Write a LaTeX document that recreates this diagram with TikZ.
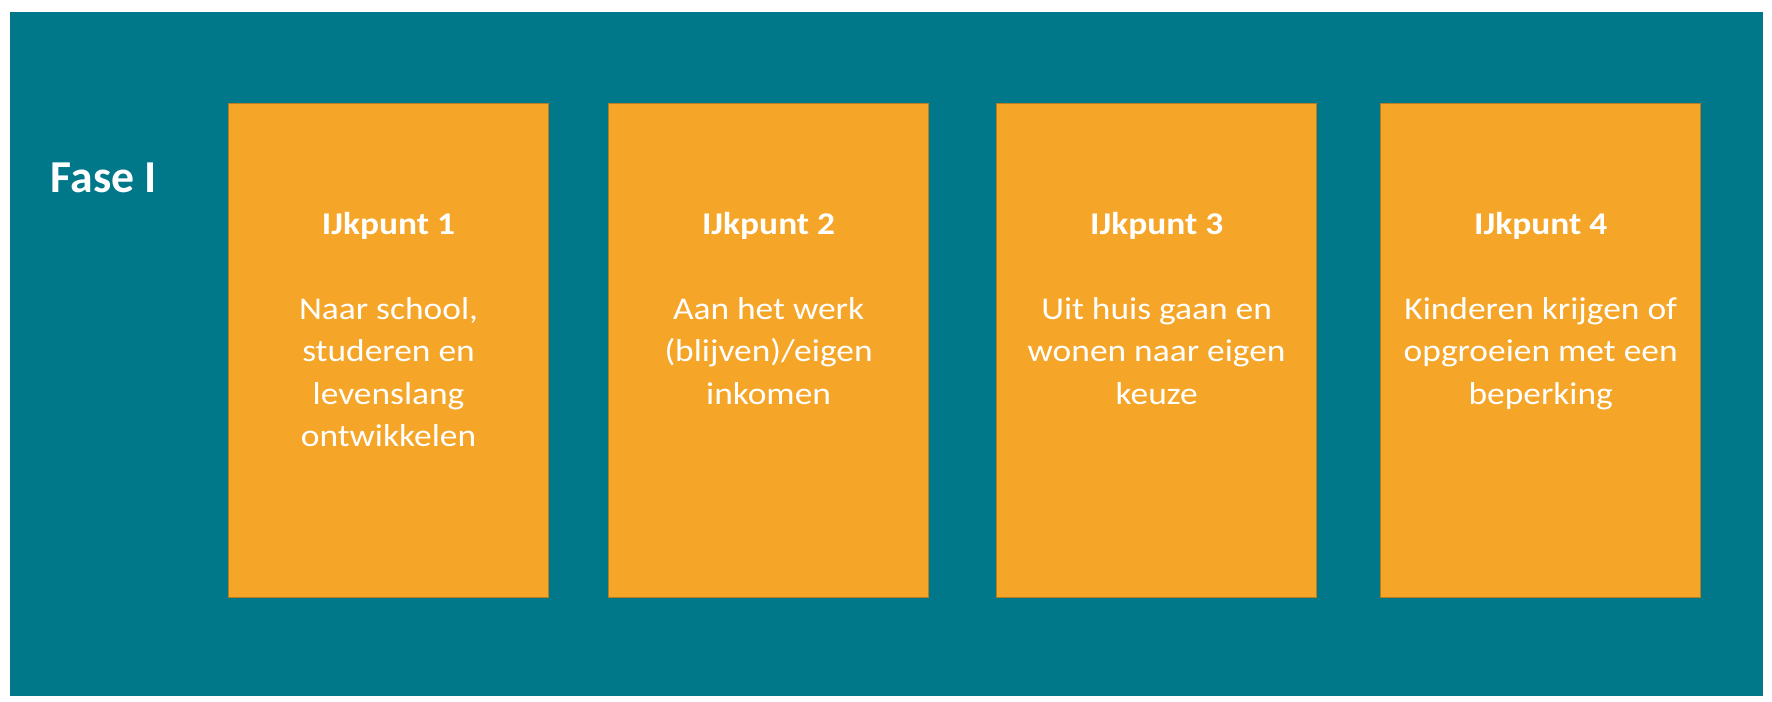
\documentclass[tikz,border=0pt]{standalone}
\usepackage{fontspec}
\setmainfont{Carlito}
\newfontfamily\boxfont[FakeStretch=1.12]{Carlito}
\usepackage{xcolor}
\usetikzlibrary{positioning,calc}
\definecolor{faseteal}{RGB}{0,120,138}
\definecolor{ijkorange}{RGB}{245,166,41}

\begin{document}
\begin{tikzpicture}[
    ijk/.style={draw=ijkorange!75!black, line width=0.3pt, fill=ijkorange, rectangle, minimum width=3.2cm, minimum height=4.94cm, inner sep=0pt},
    kop/.style={text=white, font=\boxfont\fontsize{9}{12}\selectfont\bfseries, inner sep=0pt, anchor=base},
    tekst/.style={text=white, font=\boxfont\fontsize{9}{12}\selectfont, align=center, inner sep=0pt, anchor=north}
]
    \useasboundingbox (0,0) rectangle (17.72,7.02);
    \fill [faseteal] (0.10,0.06) rectangle (17.63,6.90);

    \node [text=white, font=\fontsize{13}{15}\selectfont\bfseries, anchor=base west, inner sep=0pt] (fase) at (0.50,5.09) {Fase I};

    \node [ijk, anchor=north west] (ijk1) at (2.28,5.99) {};
    \node [ijk, right=0.59cm of ijk1] (ijk2) {};
    \node [ijk, right=0.67cm of ijk2] (ijk3) {};
    \node [ijk, right=0.63cm of ijk3] (ijk4) {};

    \node [kop] (kop1) at ($(ijk1.north)+(0,-1.32)$) {IJkpunt 1};
    \node [kop] (kop2) at ($(ijk2.north)+(0,-1.32)$) {IJkpunt 2};
    \node [kop] (kop3) at ($(ijk3.north)+(0,-1.32)$) {IJkpunt 3};
    \node [kop] (kop4) at ($(ijk4.north)+(0,-1.32)$) {IJkpunt 4};

    \node [tekst] (tekst1) at ($(ijk1.north)+(0,-1.94)$) {Naar school,\\studeren en\\levenslang\\ontwikkelen};
    \node [tekst] (tekst2) at ($(ijk2.north)+(0,-1.94)$) {Aan het werk\\(blijven)/eigen\\inkomen};
    \node [tekst] (tekst3) at ($(ijk3.north)+(0,-1.94)$) {Uit huis gaan en\\wonen naar eigen\\keuze};
    \node [tekst] (tekst4) at ($(ijk4.north)+(0,-1.94)$) {Kinderen krijgen of\\opgroeien met een\\beperking};
\end{tikzpicture}
\end{document}
